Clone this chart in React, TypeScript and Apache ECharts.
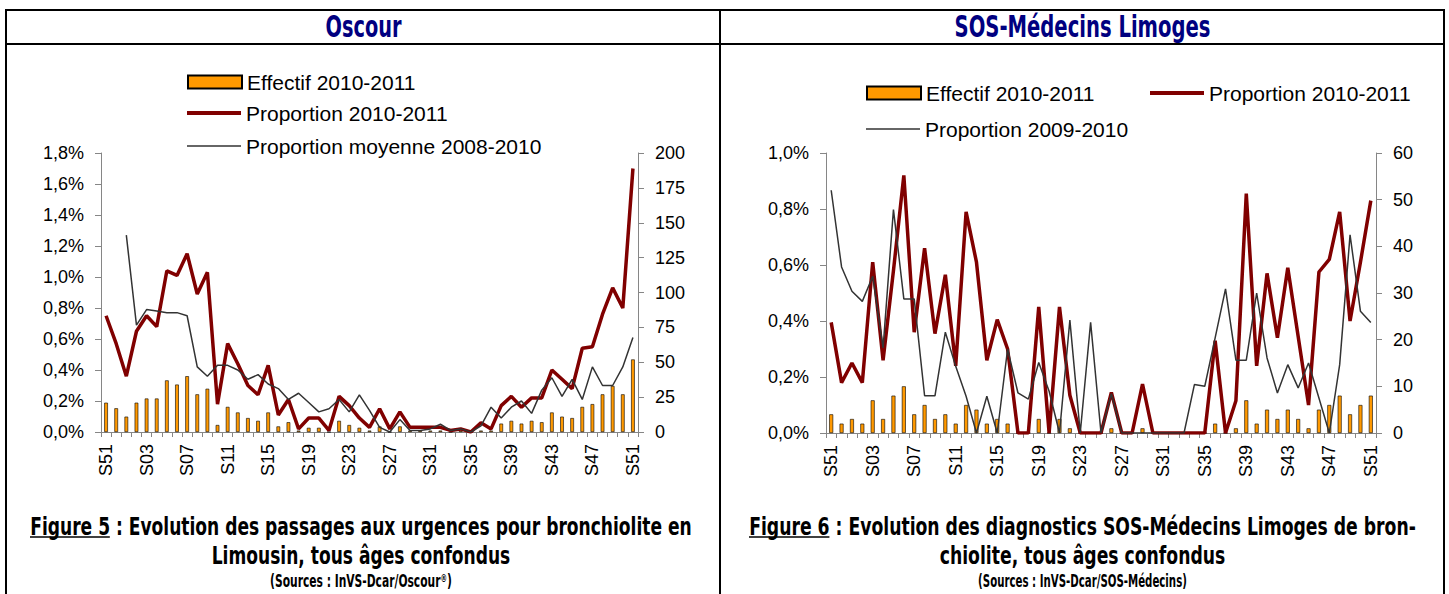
import React, { useEffect, useRef } from "react";
import * as echarts from "echarts";

const weeks = ["S51","S52","S01","S02","S03","S04","S05","S06","S07","S08","S09","S10","S11","S12","S13","S14","S15","S16","S17","S18","S19","S20","S21","S22","S23","S24","S25","S26","S27","S28","S29","S30","S31","S32","S33","S34","S35","S36","S37","S38","S39","S40","S41","S42","S43","S44","S45","S46","S47","S48","S49","S50","S51"];

// Oscour (left chart)
const effectifOscour = [21,17,11,21,24,24,37,34,40,27, 31,5,18,14,10,8,14,4,7,1, 3,3,0,8,5,3,1,4,0,4, 1,1,1,1,0,1,0,1,1,6, 8,6,8,7,14,11,10,18,20,27, 33,27,52];
const propOscour = [0.75,0.57,0.36,0.65,0.75,0.68,1.04,1.01,1.15,0.89, 1.03,0.18,0.57,0.44,0.30,0.24,0.43,0.11,0.21,0.02, 0.09,0.09,0.01,0.23,0.17,0.09,0.03,0.15,0.02,0.13, 0.03,0.03,0.03,0.03,0.01,0.02,0.00,0.06,0.02,0.17, 0.23,0.16,0.22,0.22,0.40,0.34,0.28,0.54,0.55,0.76, 0.93,0.80,1.70];
const moyOscour = [null,null,1.27,0.69,0.79,0.78,0.77,0.77,0.75,0.42, 0.36,0.43,0.43,0.40,0.34,0.37,0.31,0.28,0.21,0.25, 0.19,0.13,0.15,0.21,0.13,0.24,0.14,0.03,0.00,0.08, 0.01,0.01,0.02,0.05,0.01,0.02,0.00,0.04,0.16,0.09, 0.16,0.20,0.12,0.27,0.35,0.23,0.34,0.21,0.42,0.30, 0.30,0.42,0.61];

// SOS-Médecins Limoges (right chart)
const effectifSOS = [4,2,3,2,7,3,8,10,4,6, 3,4,2,6,5,2,3,2,0,0, 3,0,3,1,0,0,0,1,0,0, 1,0,0,0,0,0,0,2,0,1, 7,2,5,3,5,3,1,5,6,8, 4,6,8];
const propSOS = [0.395,0.18,0.25,0.18,0.61,0.26,0.58,0.92,0.36,0.66, 0.355,0.565,0.24,0.79,0.61,0.26,0.405,0.30,0,0, 0.45,0,0.45,0.135,0,0,0,0.145,0,0, 0.175,0,0,0,0,0,0,0.33,0,0.115, 0.855,0.24,0.57,0.34,0.59,0.345,0.10,0.575,0.62,0.79, 0.40,0.61,0.83];
const prop0910 = [0.867,0.593,0.506,0.47,0.56,0.304,0.798,0.479,0.479,0.133, 0.133,0.36,0.238,0.131,0,0.131,0,0.30,0.143,0.121, 0.252,0.149,0,0.403,0,0.395,0,0.14,0,0, 0,0,0,0,0,0.173,0.167,0.34,0.515,0.26, 0.26,0.50,0.268,0.143,0.244,0.161,0.25,0.125,0,0.244, 0.708,0.435,0.395];

const AX_FONT = "'Liberation Sans', Arial, sans-serif";
const TITLE_FONT = "'Liberation Sans Narrow', 'DejaVu Sans Condensed', 'Liberation Sans', sans-serif";

const pctFmt = (v: number) => v.toFixed(1).replace(".", ",") + "%";

export default function App() {
  const ref = useRef<HTMLDivElement>(null);
  useEffect(() => {
    if (!ref.current) return;
    const chart = echarts.init(ref.current, null, { renderer: "svg" });

    const ctx = document.createElement("canvas").getContext("2d") as CanvasRenderingContext2D;
    const measure = (t: string, size: number) => {
      ctx.font = `bold ${size}px ${TITLE_FONT}`;
      return ctx.measureText(t).width;
    };
    const scaledText = (text: string, cx: number, cy: number, s: number, size: number, color: string) => ({
      type: "text",
      x: cx,
      y: cy,
      scaleX: s,
      z: 10,
      style: { text, fontSize: size, fontWeight: "bold", fontFamily: TITLE_FONT, fill: color, align: "center", verticalAlign: "middle" },
    });
    const fitText = (text: string, cx: number, cy: number, targetW: number, size: number, color: string) =>
      scaledText(text, cx, cy, targetW / measure(text, size), size, color);

    const sourceText = (base: string, cx: number, cy: number, targetW: number, sup: boolean) => {
      const size = 18;
      const w = measure(base + ")", size) + (sup ? measure("®", 11) : 0);
      return {
        type: "text",
        x: cx,
        y: cy,
        scaleX: targetW / w,
        z: 10,
        style: {
          text: sup ? base + "{sup|®})" : base + ")",
          fontSize: size, fontWeight: "bold", fontFamily: TITLE_FONT, fill: "#000",
          align: "center", verticalAlign: "middle",
          rich: { sup: { fontSize: 11, fontWeight: "bold", fontFamily: TITLE_FONT, fill: "#000", verticalAlign: "top" } },
        },
      };
    };
    const CAP = 25;
    const caption = (l1: string, fig: string, l2: string, cx: number, w1: number) => {
      const s = w1 / measure(l1, CAP);
      const x0 = cx - w1 / 2;
      const wf = measure(fig, CAP) * s;
      return [
        scaledText(l1, cx, 526, s, CAP, "#000"),
        { type: "line", z: 10, shape: { x1: x0, y1: 537, x2: x0 + wf, y2: 537 }, style: { stroke: "#000", lineWidth: 1.6 } },
        scaledText(l2, cx, 555, s, CAP, "#000"),
      ];
    };
    const bline = (x1: number, y1: number, x2: number, y2: number) => ({
      type: "line", z: 10, shape: { x1, y1, x2, y2 }, style: { stroke: "#000", lineWidth: 2 },
    });

    const graphic: any[] = [
      bline(5, 10, 1445, 10),
      bline(5, 44, 1445, 44),
      bline(6, 10, 6, 594),
      bline(720, 10, 720, 594),
      bline(1444, 10, 1444, 594),
      fitText("Oscour", 363.5, 27, 76, 30, "#000080"),
      fitText("SOS-Médecins Limoges", 1082.5, 27, 256, 30, "#000080"),
      ...caption("Figure 5 : Evolution des passages aux urgences pour bronchiolite en", "Figure 5", "Limousin, tous âges confondus", 361, 662),
      sourceText("(Sources : InVS-Dcar/Oscour", 361, 581, 182, true),
      ...caption("Figure 6 : Evolution des diagnostics SOS-Médecins Limoges de bron-", "Figure 6", "chiolite, tous âges confondus", 1082.5, 667),
      sourceText("(Sources : InVS-Dcar/SOS-Médecins", 1082.5, 581, 209, false),
    ];

    const axisLine = { show: true, lineStyle: { color: "#868686", width: 1 } };
    const yTick = { show: true, inside: false, length: 6, lineStyle: { color: "#868686", width: 1 } };
    const labelStyle = { color: "#000", fontSize: 18, fontFamily: AX_FONT };

    const xAxes = [0, 1].map((g) => ({
      type: "category",
      gridIndex: g,
      data: weeks,
      boundaryGap: true,
      axisLine,
      axisTick: { show: true, interval: 0, length: 5, lineStyle: { color: "#868686", width: 1 } },
      axisLabel: { ...labelStyle, interval: 3, rotate: 90, margin: 12 },
      splitLine: { show: false },
    }));

    const yAx = (g: number, pos: string, max: number, interval: number, fmt?: (v: number) => string) => ({
      type: "value",
      gridIndex: g,
      position: pos,
      min: 0,
      max,
      interval,
      axisLine,
      axisTick: yTick,
      splitLine: { show: false },
      axisLabel: { ...labelStyle, margin: 17, formatter: fmt },
    });

    const legendBase = {
      orient: "horizontal",
      padding: 0,
      itemWidth: 54,
      itemHeight: 13,
      textStyle: { color: "#000", fontSize: 21, fontFamily: AX_FONT, lineHeight: 21 },
      selectedMode: false,
    };
    const barLegend = (left: number, top: number) => ({
      ...legendBase, left, top, data: [{ name: "Effectif 2010-2011", icon: "rect" }],
    });
    const lineLegend = (name: string, left: number, top: number, h: number) => ({
      ...legendBase, left, top, itemHeight: h, data: [{ name, icon: "rect" }],
    });

    const barStyle = { color: "#FF9900", borderColor: "#000", borderWidth: 0.6 };

    const option: any = {
      animation: false,
      backgroundColor: "#fff",
      textStyle: { fontFamily: AX_FONT },
      graphic,
      legend: [
        barLegend(187, 71.5),
        lineLegend("Proportion 2010-2011", 187, 102.5, 4),
        lineLegend("Proportion moyenne 2008-2010", 187, 135.5, 1.6),
        barLegend(866, 82.5),
        lineLegend("Proportion 2010-2011", 1150, 82.5, 4),
        lineLegend("Proportion 2009-2010", 866, 118.5, 1.6),
      ],
      grid: [
        { left: 101, top: 153, width: 537, height: 279 },
        { left: 826, top: 153, width: 550, height: 280 },
      ],
      xAxis: xAxes,
      yAxis: [
        yAx(0, "left", 1.8, 0.2, pctFmt),
        yAx(0, "right", 200, 25),
        yAx(1, "left", 1.0, 0.2, pctFmt),
        yAx(1, "right", 60, 10),
      ],
      series: [
        { type: "bar", name: "Effectif 2010-2011", xAxisIndex: 0, yAxisIndex: 1, data: effectifOscour, barWidth: "36%", itemStyle: barStyle },
        { type: "line", name: "Proportion 2010-2011", xAxisIndex: 0, yAxisIndex: 0, data: propOscour, symbol: "none", lineStyle: { color: "#800000", width: 3.5 }, itemStyle: { color: "#800000" } },
        { type: "line", name: "Proportion moyenne 2008-2010", xAxisIndex: 0, yAxisIndex: 0, data: moyOscour, symbol: "none", lineStyle: { color: "#333333", width: 1.5 }, itemStyle: { color: "#333333" } },
        { type: "bar", name: "Effectif 2010-2011", xAxisIndex: 1, yAxisIndex: 3, data: effectifSOS, barWidth: "38%", itemStyle: barStyle },
        { type: "line", name: "Proportion 2010-2011", xAxisIndex: 1, yAxisIndex: 2, data: propSOS, symbol: "none", lineStyle: { color: "#800000", width: 3.5 }, itemStyle: { color: "#800000" } },
        { type: "line", name: "Proportion 2009-2010", xAxisIndex: 1, yAxisIndex: 2, data: prop0910, symbol: "none", lineStyle: { color: "#333333", width: 1.5 }, itemStyle: { color: "#333333" } },
      ],
    };

    chart.setOption(option);
    return () => chart.dispose();
  }, []);

  return (
    <div
      ref={ref}
      style={{ position: "absolute", left: 0, top: 0, width: 1449, height: 594, background: "#fff" }}
    />
  );
}
